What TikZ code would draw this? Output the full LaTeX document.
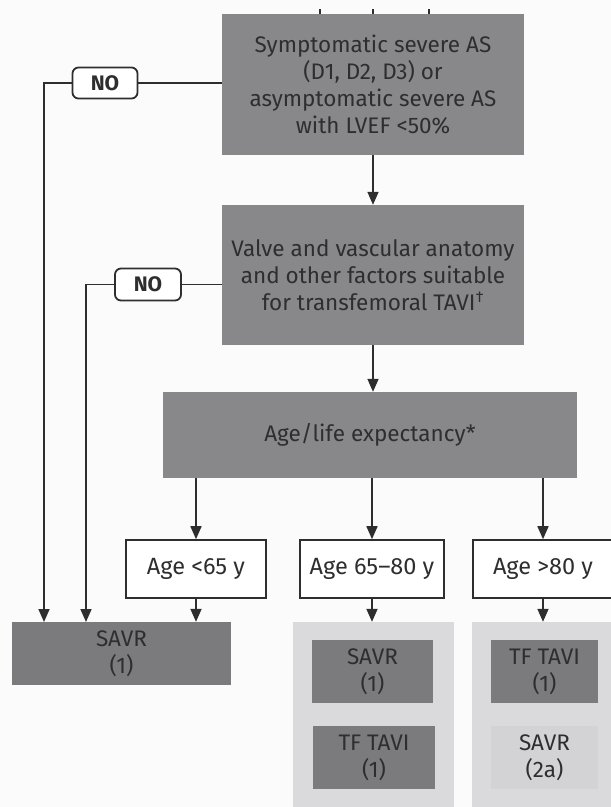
\documentclass[tikz,border=0pt]{standalone}
\usepackage{fontspec}
\setmainfont{Fira Sans}
\usetikzlibrary{arrows.meta}
\definecolor{darkbox}{HTML}{88888B}
\definecolor{darkerbox}{HTML}{7B7B7E}
\definecolor{panel}{HTML}{DADADC}
\definecolor{panelin}{HTML}{D3D3D5}
\definecolor{ink}{HTML}{2E2E2E}
\definecolor{bg}{HTML}{FBFBFB}
\tikzset{
  dbox/.style={fill=darkbox, draw=none, text=ink, align=center, inner sep=0pt, font=\fontsize{22.5}{27}\selectfont},
  sbox/.style={fill=darkerbox, draw=none, text=ink, align=center, inner sep=0pt, font=\fontsize{22.5}{27}\selectfont},
  agebox/.style={fill=white, draw=ink, line width=1.6pt, text=ink, inner sep=0pt, font=\fontsize{23.5}{27}\selectfont},
  nobox/.style={fill=white, draw=ink, line width=1.8pt, rounded corners=6pt, text=ink, inner sep=0pt, font=\bfseries\fontsize{21}{22}\selectfont},
  pbox/.style={fill=panel, draw=none, inner sep=0pt},
  conn/.style={draw=ink, line width=1.6pt},
  arr/.style={conn, -{Triangle[length=13pt,width=11pt]}},
}
\begin{document}
\begin{tikzpicture}[x=1pt,y=-1pt]
\useasboundingbox[fill=bg] (0,0) rectangle (611,807);
% small marks at the top edge
\coordinate (t1) at (320,9); \coordinate (t1b) at (320,14);
\coordinate (t2) at (373,9); \coordinate (t2b) at (373,14);
\coordinate (t3) at (429,9); \coordinate (t3b) at (429,14);
\draw[conn, line width=1.2pt] (t1) -- (t1b) (t2) -- (t2b) (t3) -- (t3b);

\node[dbox, minimum width=302pt, minimum height=141pt] (top) at (373,84.5)
  {Symptomatic severe AS\\(D1, D2, D3) or\\asymptomatic severe AS\\with LVEF <50\%};
\node[dbox, minimum width=302pt, minimum height=140pt] (q2) at (373,275)
  {Valve and vascular anatomy\\and other factors suitable\\for transfemoral TAVI\textsuperscript{†}};
\node[dbox, minimum width=414pt, minimum height=86pt] (age) at (370,435)
  {Age/life expectancy*};

\node[nobox, minimum width=65pt, minimum height=31pt] (no1) at (105,83) {NO};
\node[nobox, minimum width=66pt, minimum height=32pt] (no2) at (148,284.5) {NO};

\node[agebox, minimum width=140pt, minimum height=58pt] (a1) at (196,569) {Age <65 y};
\node[agebox, minimum width=144pt, minimum height=58pt] (a2) at (372,569) {Age 65–80 y};
\node[agebox, minimum width=140pt, minimum height=58pt] (a3) at (543,569) {Age >80 y};

\node[sbox, minimum width=219pt, minimum height=63pt] (savr) at (121.5,653.5) {SAVR\\(1)};

\node[pbox, minimum width=161pt, minimum height=186pt] (p1) at (373.5,715) {};
\node[pbox, minimum width=139pt, minimum height=186pt] (p2) at (541.5,715) {};

\node[sbox, minimum width=121pt, minimum height=63pt] (i1) at (372.5,671.5) {SAVR\\(1)};
\node[sbox, minimum width=122pt, minimum height=63pt] (i2) at (374,757.5) {TF TAVI\\(1)};
\node[sbox, minimum width=107pt, minimum height=63pt] (j1) at (544.5,671.5) {TF TAVI\\(1)};
\node[sbox, fill=panelin, minimum width=107pt, minimum height=63pt] (j2) at (544.5,757.5) {SAVR\\(2a)};

% connectors
\coordinate (s1) at (44,622);
\coordinate (s2) at (86,622);
\draw[conn] (no1.east -| top.west) -- (no1.east);
\draw[arr] (no1.west) -| (s1);
\draw[conn] (no2.east -| q2.west) -- (no2.east);
\draw[arr] (no2.west) -| (s2);
\draw[arr] (top.south) -- (q2.north);
\draw[arr] (q2.south) -- (age.north -| q2.south);
\draw[arr] (age.south -| a1.north) -- (a1.north);
\draw[arr] (age.south -| a2.north) -- (a2.north);
\draw[arr] (age.south -| a3.north) -- (a3.north);
\draw[arr] (a1.south) -- (a1.south |- savr.north);
\draw[arr] (a2.south) -- (a2.south |- p1.north);
\draw[arr] (a3.south) -- (a3.south |- p2.north);
\end{tikzpicture}
\end{document}
